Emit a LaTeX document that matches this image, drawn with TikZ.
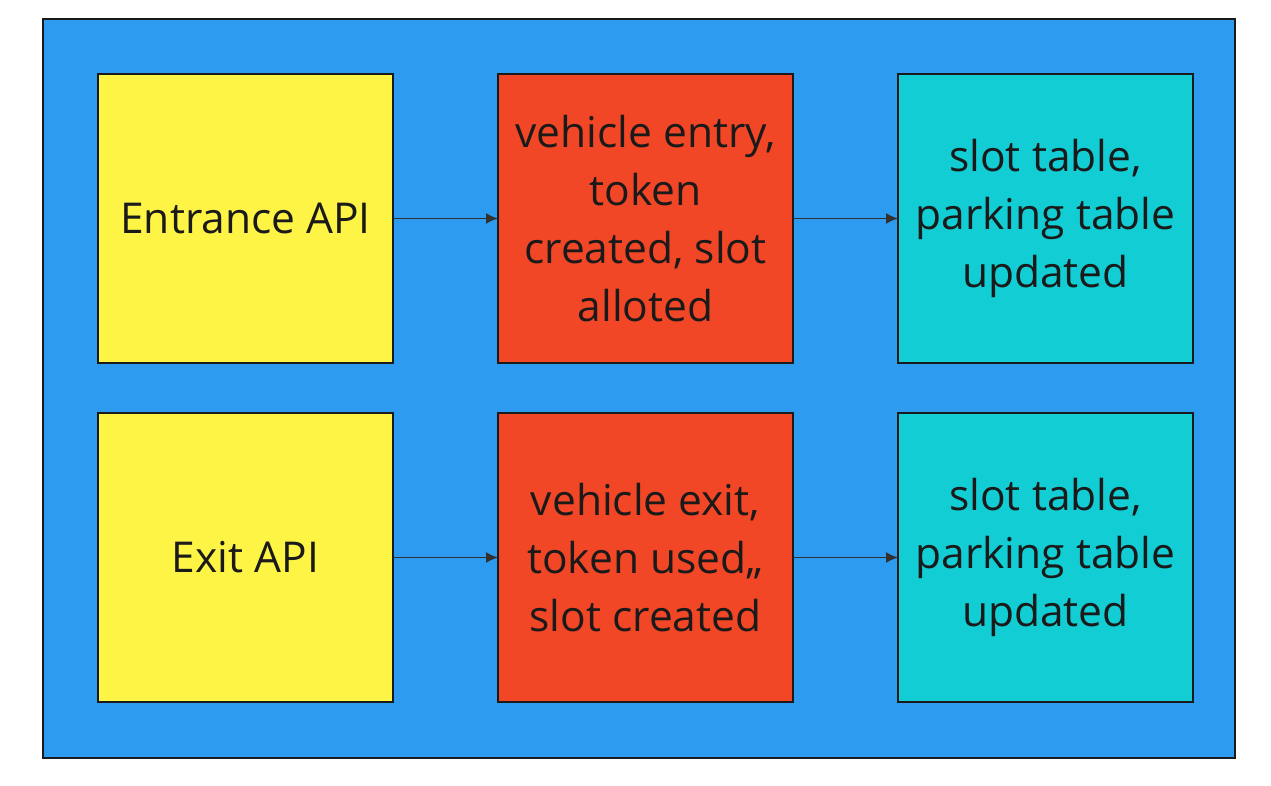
\documentclass[tikz,border=0pt]{standalone}
\usepackage{fontspec}
\setmainfont{Open Sans}
\usetikzlibrary{positioning,arrows.meta}
\definecolor{panelblue}{HTML}{2D9BF0}
\definecolor{noteyellow}{HTML}{FEF445}
\definecolor{notered}{HTML}{F24726}
\definecolor{notecyan}{HTML}{12CDD4}
\definecolor{inkdark}{HTML}{1A1A1A}
\begin{document}
\begin{tikzpicture}[x=1pt, y=-1pt]
	\tikzset{note/.style={rectangle, minimum width=295pt, minimum height=289pt, outer sep=0pt, draw=inkdark, line width=1.3pt, text=inkdark, align=center, font=\fontsize{42.5}{58}\selectfont, node distance = 50pt and 105pt}}
	\tikzset{connect/.style={-{Latex[length=12pt,width=11pt]}, line width=1.6pt, draw=inkdark!90}}
	\useasboundingbox (0,0) rectangle (1271,786);
	\node[rectangle, fill=panelblue, draw=inkdark, line width=1.3pt, minimum width=1192pt, minimum height=739pt] (panel) at (639,388.5) {};
	\node[note, fill = noteyellow] (entrance) at (245.5,218.5) {Entrance API};
	\node[note, fill = notered] (entry) [right=of entrance] {vehicle entry,\\token\\created, slot\\alloted};
	\node[note, fill = notecyan] (entrytables) [right=of entry] {slot table,\\parking table\\updated};
	\node[note, fill = noteyellow] (exitapi) [below=of entrance] {Exit API};
	\node[note, fill = notered] (exit) [right=of exitapi] {vehicle exit,\\token used,,\\slot created};
	\node[note, fill = notecyan] (exittables) [right=of exit] {slot table,\\parking table\\updated};
	\path (entrance) edge [connect] (entry)
	(entry) edge [connect] (entrytables)
	(exitapi) edge [connect] (exit)
	(exit) edge [connect] (exittables);
\end{tikzpicture}
\end{document}
